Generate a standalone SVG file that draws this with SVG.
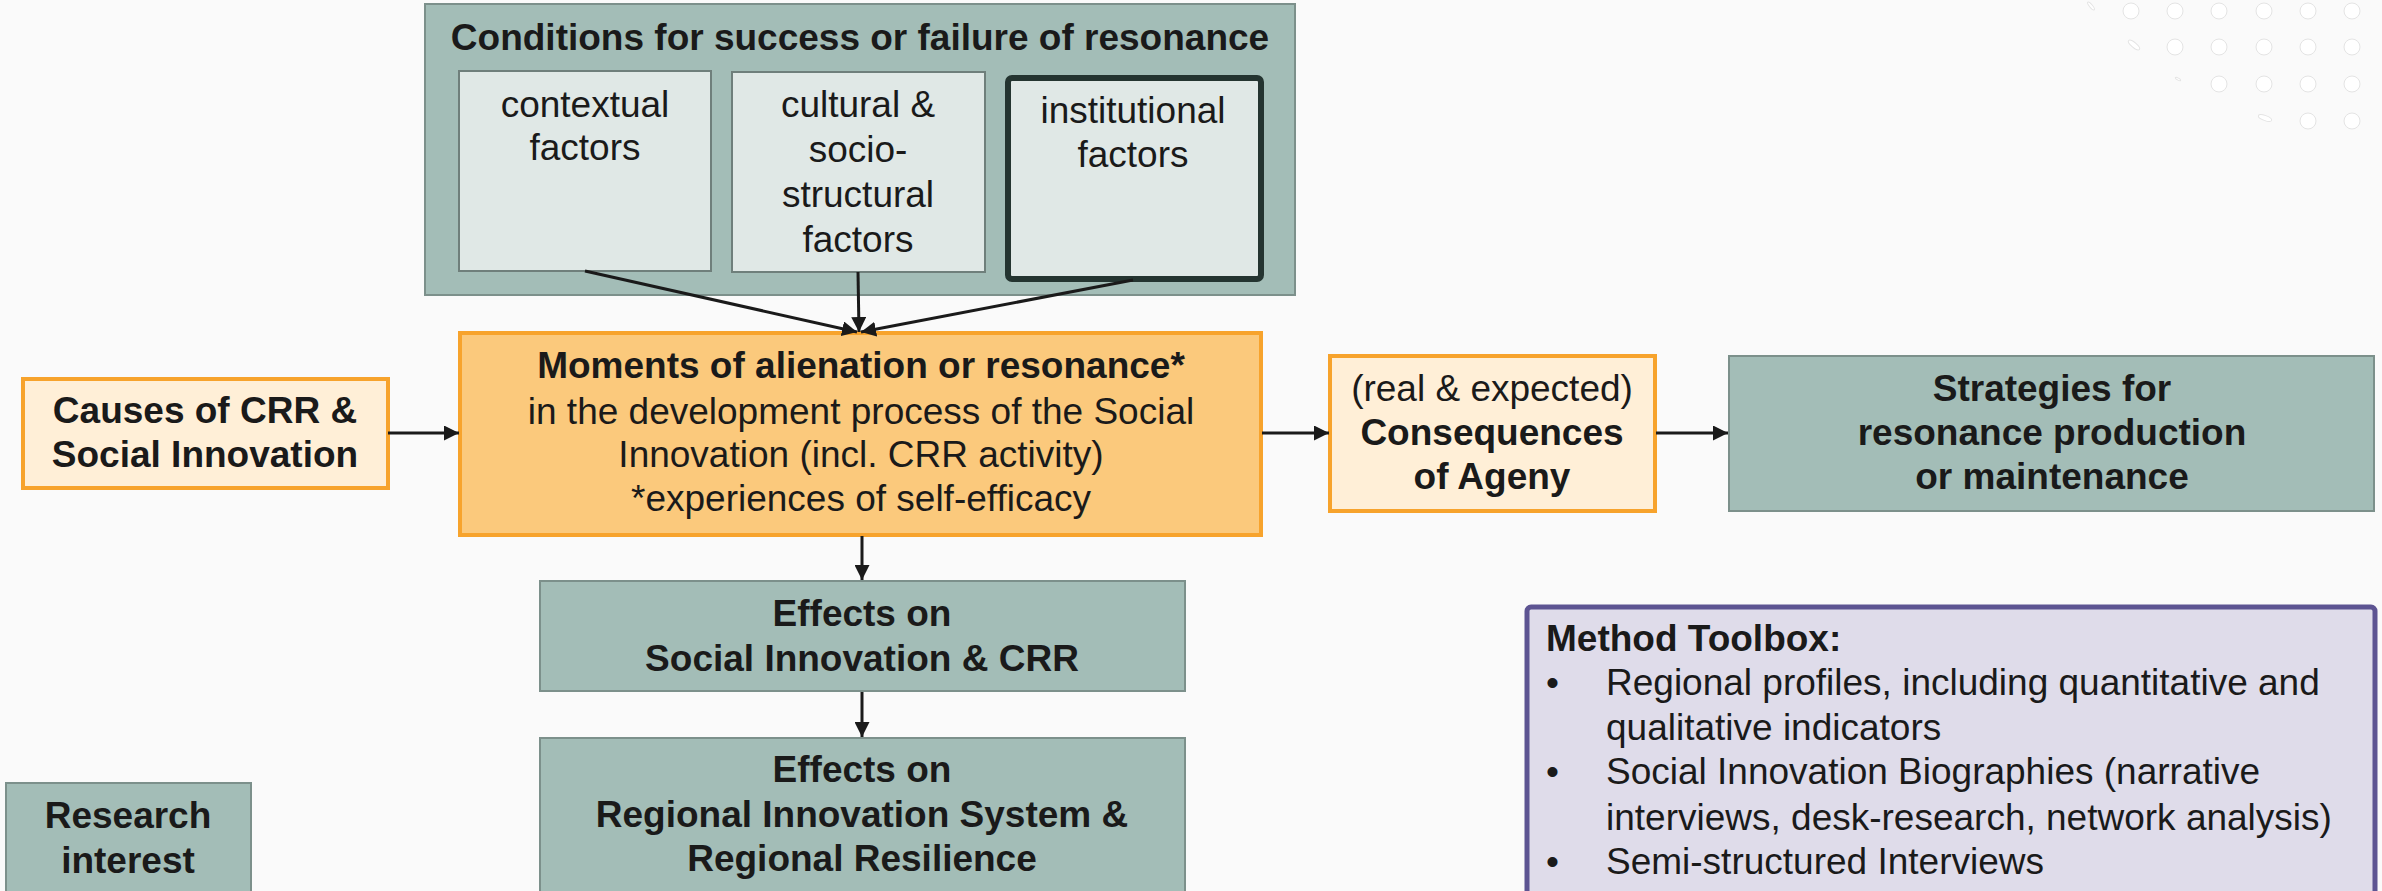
<svg xmlns="http://www.w3.org/2000/svg" width="2382" height="891" viewBox="0 0 2382 891">
<defs>
<style>
text{font-family:"Liberation Sans",Arial,sans-serif;font-size:37px;fill:#1a1a1a}
.c{text-anchor:middle}
.b{font-weight:bold}
.teal{fill:#a3bdb7;stroke:#7c908b;stroke-width:2}
.inner{fill:#e0e8e6;stroke:#6f7f7b;stroke-width:2}
.orange{fill:#fbc97c;stroke:#f7a32c;stroke-width:4}
.lorange{fill:#ffefd7;stroke:#f7a32c;stroke-width:4}
.conn line{stroke:#1a1a1a;stroke-width:3}
.dot{fill:#ffffff;stroke:#e4e4e4;stroke-width:1}
</style>
<marker id="ah" viewBox="0 0 10 10" refX="10" refY="5" markerWidth="5" markerHeight="5" orient="auto" markerUnits="strokeWidth">
<path d="M0,0 L10,5 L0,10 Z" fill="#1a1a1a"/>
</marker>
</defs>
<rect width="2382" height="891" fill="#fafafa"/>
<g id="dots">
<circle class="dot" cx="2131" cy="11" r="8"/><circle class="dot" cx="2175" cy="11" r="8"/><circle class="dot" cx="2219" cy="11" r="8"/><circle class="dot" cx="2264" cy="11" r="8"/><circle class="dot" cx="2308" cy="11" r="8"/><circle class="dot" cx="2352" cy="11" r="8"/>
<circle class="dot" cx="2175" cy="47" r="8"/><circle class="dot" cx="2219" cy="47" r="8"/><circle class="dot" cx="2264" cy="47" r="8"/><circle class="dot" cx="2308" cy="47" r="8"/><circle class="dot" cx="2352" cy="47" r="8"/>
<circle class="dot" cx="2219" cy="84" r="8"/><circle class="dot" cx="2264" cy="84" r="8"/><circle class="dot" cx="2308" cy="84" r="8"/><circle class="dot" cx="2352" cy="84" r="8"/>
<circle class="dot" cx="2308" cy="121" r="8"/><circle class="dot" cx="2352" cy="121" r="8"/>
<ellipse class="dot" cx="2091" cy="6" rx="5" ry="1.5" transform="rotate(50 2091 6)"/>
<ellipse class="dot" cx="2134" cy="45" rx="7" ry="2.5" transform="rotate(40 2134 45)"/>
<ellipse class="dot" cx="2178" cy="79" rx="3" ry="1" transform="rotate(30 2178 79)"/>
<ellipse class="dot" cx="2265" cy="118" rx="7" ry="2.5" transform="rotate(20 2265 118)"/>
</g>
<g id="conditions">
<rect class="teal" x="425" y="4" width="870" height="291"/>
<text class="c b" x="860" y="50">Conditions for success or failure of resonance</text>
</g>
<g id="contextual">
<rect class="inner" x="459" y="71" width="252" height="200"/>
<text class="c" x="585" y="117">contextual</text>
<text class="c" x="585" y="160">factors</text>
</g>
<g id="cultural">
<rect class="inner" x="732" y="72" width="253" height="200"/>
<text class="c" x="858" y="117">cultural &amp;</text>
<text class="c" x="858" y="162">socio-</text>
<text class="c" x="858" y="207">structural</text>
<text class="c" x="858" y="252">factors</text>
</g>
<g id="institutional">
<rect x="1008" y="78" width="253" height="201" rx="4" fill="#e0e8e6" stroke="#243430" stroke-width="6"/>
<text class="c" x="1133" y="123">institutional</text>
<text class="c" x="1133" y="167">factors</text>
</g>
<g id="moments">
<rect class="orange" x="460" y="333" width="801" height="202"/>
<text class="c b" x="861" y="378">Moments of alienation or resonance*</text>
<text class="c" x="861" y="424">in the development process of the Social</text>
<text class="c" x="861" y="467">Innovation (incl. CRR activity)</text>
<text class="c" x="861" y="511">*experiences of self-efficacy</text>
</g>
<g id="causes">
<rect class="lorange" x="23" y="379" width="365" height="109"/>
<text class="c b" x="205" y="423">Causes of CRR &amp;</text>
<text class="c b" x="205" y="467">Social Innovation</text>
</g>
<g id="consequences">
<rect class="lorange" x="1330" y="356" width="325" height="155"/>
<text class="c" x="1492" y="401">(real &amp; expected)</text>
<text class="c b" x="1492" y="445">Consequences</text>
<text class="c b" x="1492" y="489">of Ageny</text>
</g>
<g id="strategies">
<rect class="teal" x="1729" y="356" width="645" height="155"/>
<text class="c b" x="2052" y="401">Strategies for</text>
<text class="c b" x="2052" y="445">resonance production</text>
<text class="c b" x="2052" y="489">or maintenance</text>
</g>
<g id="effects1">
<rect class="teal" x="540" y="581" width="645" height="110"/>
<text class="c b" x="862" y="626">Effects on</text>
<text class="c b" x="862" y="671">Social Innovation &amp; CRR</text>
</g>
<g id="effects2">
<rect class="teal" x="540" y="738" width="645" height="170"/>
<text class="c b" x="862" y="782">Effects on</text>
<text class="c b" x="862" y="827">Regional Innovation System &amp;</text>
<text class="c b" x="862" y="871">Regional Resilience</text>
</g>
<g id="research">
<rect class="teal" x="6" y="783" width="245" height="130"/>
<text class="c b" x="128" y="828">Research</text>
<text class="c b" x="128" y="873">interest</text>
</g>
<g id="toolbox">
<rect x="1527" y="607" width="848" height="310" rx="4" fill="#dfdcea" stroke="#5d5492" stroke-width="5"/>
<text class="b" x="1546" y="651">Method Toolbox:</text>
<text x="1546" y="695">•</text>
<text x="1606" y="695">Regional profiles, including quantitative and</text>
<text x="1606" y="740">qualitative indicators</text>
<text x="1546" y="784">•</text>
<text x="1606" y="784">Social Innovation Biographies (narrative</text>
<text x="1606" y="830">interviews, desk-research, network analysis)</text>
<text x="1546" y="874">•</text>
<text x="1606" y="874">Semi-structured Interviews</text>
</g>
<g id="connectors" class="conn">
<line x1="585" y1="271" x2="857" y2="332" marker-end="url(#ah)"/>
<line x1="858" y1="272" x2="859" y2="332" marker-end="url(#ah)"/>
<line x1="1133" y1="280" x2="861" y2="332" marker-end="url(#ah)"/>
<line x1="388" y1="433" x2="459" y2="433" marker-end="url(#ah)"/>
<line x1="1262" y1="433" x2="1329" y2="433" marker-end="url(#ah)"/>
<line x1="1656" y1="433" x2="1728" y2="433" marker-end="url(#ah)"/>
<line x1="862" y1="536" x2="862" y2="580" marker-end="url(#ah)"/>
<line x1="862" y1="692" x2="862" y2="737" marker-end="url(#ah)"/>
</g>
</svg>
